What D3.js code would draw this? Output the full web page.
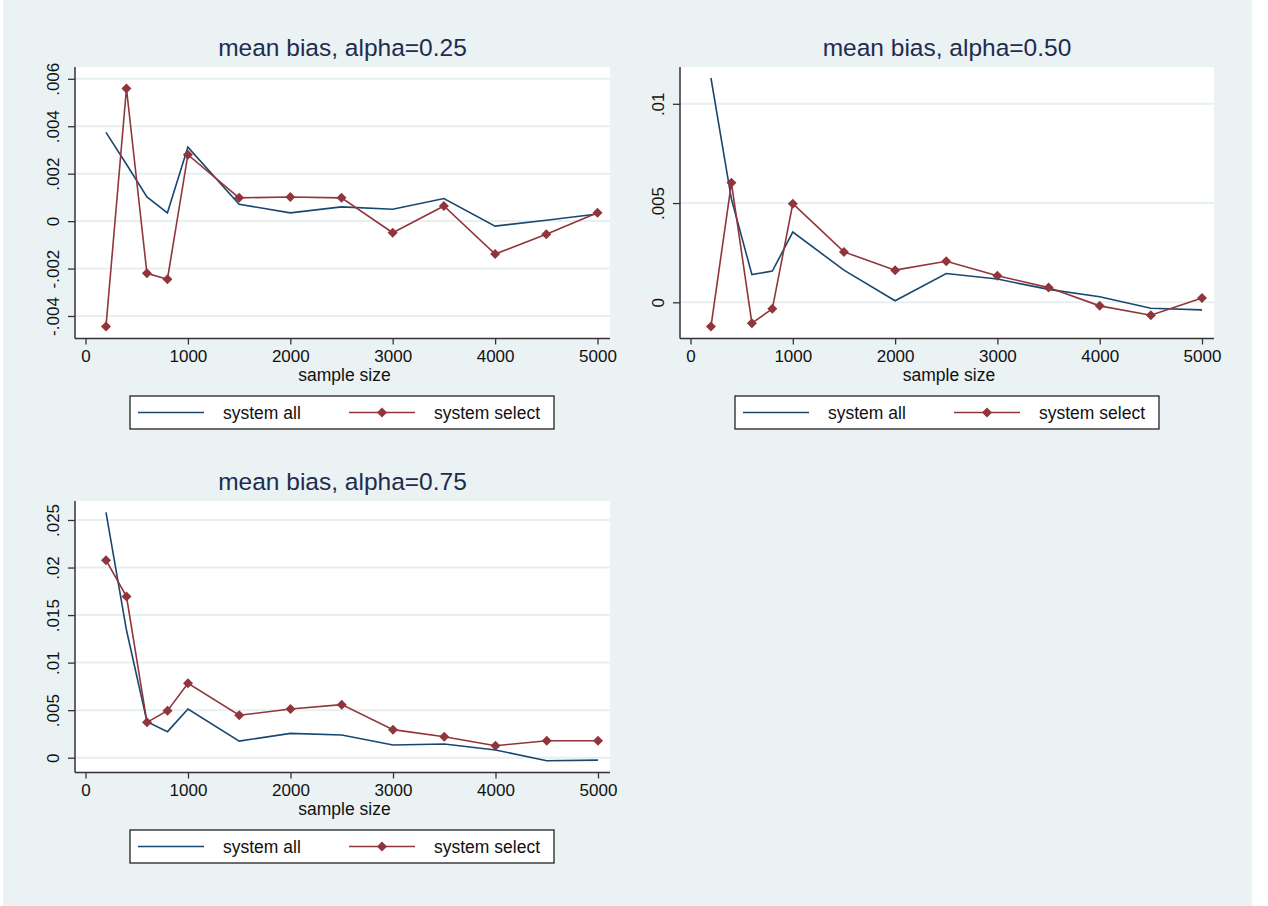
<!DOCTYPE html>
<html>
<head>
<meta charset="utf-8">
<script src="https://cdn.jsdelivr.net/npm/d3@7"></script>
<style>
  html, body { margin: 0; padding: 0; background: #ffffff; }
  svg { display: block; font-family: "Liberation Sans", Arial, sans-serif; }
</style>
</head>
<body>
<svg id="chart" width="1268" height="906"></svg>
<script>
// sample sizes shared by all panels
const sampleSizes = [200, 400, 600, 800, 1000, 1500, 2000, 2500, 3000, 3500, 4000, 4500, 5000];

// alpha = 0.25
const allA25 = [0.00374, 0.0024, 0.00102, 0.00035, 0.00312, 0.00071, 0.00035, 0.0006, 0.0005, 0.00095, -0.00021, 0.00004, 0.0003];
const selA25 = [-0.00444, 0.00559, -0.0022, -0.00245, 0.0028, 0.00098, 0.00102, 0.00098, -0.00049, 0.00064, -0.00139, -0.00055, 0.00035];

// alpha = 0.50
const allA50 = [0.0113, 0.0052, 0.0014, 0.00157, 0.00354, 0.00162, 0.00008, 0.00145, 0.00117, 0.00065, 0.00028, -0.0003, -0.00038];
const selA50 = [-0.00122, 0.00602, -0.00105, -0.00033, 0.00497, 0.00254, 0.00162, 0.00207, 0.00134, 0.00074, -0.00018, -0.00065, 0.00022];

// alpha = 0.75
const allA75 = [0.0258, 0.0134, 0.00379, 0.00274, 0.00512, 0.00175, 0.00256, 0.00239, 0.00133, 0.00144, 0.00081, -0.00032, -0.00025];
const selA75 = [0.02077, 0.01695, 0.00372, 0.00495, 0.00782, 0.00446, 0.00512, 0.00558, 0.00295, 0.00221, 0.00126, 0.00179, 0.00179];

// tick values and labels
const xTicks = [0, 1000, 2000, 3000, 4000, 5000];
const yTicksA25 = [-0.004, -0.002, 0, 0.002, 0.004, 0.006];
const yLabelsA25 = ["-.004", "-.002", "0", ".002", ".004", ".006"];
const yTicksA50 = [0, 0.005, 0.01];
const yLabelsA50 = ["0", ".005", ".01"];
const yTicksA75 = [0, 0.005, 0.01, 0.015, 0.02, 0.025];
const yLabelsA75 = ["0", ".005", ".01", ".015", ".02", ".025"];

const titles = ["mean bias, alpha=0.25", "mean bias, alpha=0.50", "mean bias, alpha=0.75"];
const seriesNames = ["system all", "system select"];

const blue = "#1a476f";
const red = "#90353b";
const bg = "#eaf2f3";
const titleColor = "#1e2c50";

const svg = d3.select("#chart");

svg.append("rect")
  .attr("x", 3).attr("y", 0)
  .attr("width", 1249).attr("height", 906)
  .attr("fill", bg);

const panels = [
  {
    title: titles[0], all: allA25, sel: selA25,
    yTicks: yTicksA25, yLabels: yLabelsA25,
    left: 75, right: 610, top: 67, bottom: 338.5,
    xRange: [85.5, 597.5], yDomain: [-0.004, 0.006], yRange: [316, 78.8]
  },
  {
    title: titles[1], all: allA50, sel: selA50,
    yTicks: yTicksA50, yLabels: yLabelsA50,
    left: 680, right: 1214, top: 67, bottom: 338.5,
    xRange: [690.5, 1202], yDomain: [0, 0.01], yRange: [302.3, 103.8]
  },
  {
    title: titles[2], all: allA75, sel: selA75,
    yTicks: yTicksA75, yLabels: yLabelsA75,
    left: 75, right: 610, top: 501, bottom: 772.5,
    xRange: [85.5, 598], yDomain: [0, 0.025], yRange: [757.7, 520]
  }
];

const diamond = "M0,-5L5,0L0,5L-5,0Z";

panels.forEach((p) => {
  const g = svg.append("g");

  const xScale = d3.scaleLinear().domain([0, 5000]).range(p.xRange);
  const yScale = d3.scaleLinear().domain(p.yDomain).range(p.yRange);

  // plot region
  g.append("rect")
    .attr("x", p.left).attr("y", p.top)
    .attr("width", p.right - p.left).attr("height", p.bottom - p.top)
    .attr("fill", "#ffffff");

  // gridlines
  g.selectAll("line.grid")
    .data(p.yTicks)
    .enter()
    .append("line")
    .attr("class", "grid")
    .attr("x1", p.left).attr("x2", p.right)
    .attr("y1", (d) => yScale(d)).attr("y2", (d) => yScale(d))
    .attr("stroke", "#e7eff1")
    .attr("stroke-width", 2);

  // title
  g.append("text")
    .attr("x", (p.left + p.right) / 2)
    .attr("y", p.top - 11)
    .attr("text-anchor", "middle")
    .attr("font-size", 24.5)
    .attr("fill", titleColor)
    .text(p.title);

  // x axis
  const xAxis = g.append("g")
    .attr("transform", `translate(0, ${p.bottom})`)
    .call(d3.axisBottom(xScale).tickValues(xTicks).tickFormat(d3.format("d")).tickSize(6).tickPadding(5));
  xAxis.select(".domain")
    .attr("d", `M${p.left},0H${p.right}`)
    .attr("stroke", "#333").attr("stroke-width", 1.5);
  xAxis.selectAll(".tick line").attr("stroke", "#333").attr("stroke-width", 1.3);
  xAxis.selectAll(".tick text")
    .attr("font-size", 17).attr("fill", "#111")
    .attr("font-family", "Liberation Sans, Arial, sans-serif");

  g.append("text")
    .attr("x", (p.left + p.right) / 2 + 2)
    .attr("y", p.bottom + 42)
    .attr("text-anchor", "middle")
    .attr("font-size", 17.5)
    .attr("fill", "#111")
    .text("sample size");

  // y axis
  const yAxis = g.append("g")
    .attr("transform", `translate(${p.left}, 0)`)
    .call(d3.axisLeft(yScale).tickValues(p.yTicks).tickFormat((d, i) => p.yLabels[i]).tickSize(7));
  yAxis.select(".domain")
    .attr("d", `M0,${p.top}V${p.bottom}`)
    .attr("stroke", "#333").attr("stroke-width", 1.5);
  yAxis.selectAll(".tick line").attr("stroke", "#333").attr("stroke-width", 1.3);
  yAxis.selectAll(".tick text")
    .attr("font-size", 17).attr("fill", "#111")
    .attr("font-family", "Liberation Sans, Arial, sans-serif")
    .attr("x", null).attr("dy", null)
    .attr("text-anchor", "middle")
    .attr("transform", "translate(-16, 0) rotate(-90)");

  // series lines
  const line = d3.line()
    .x((d, i) => xScale(sampleSizes[i]))
    .y((d) => yScale(d));

  g.append("path")
    .datum(p.all)
    .attr("d", line)
    .attr("fill", "none")
    .attr("stroke", blue)
    .attr("stroke-width", 1.6);

  g.append("path")
    .datum(p.sel)
    .attr("d", line)
    .attr("fill", "none")
    .attr("stroke", red)
    .attr("stroke-width", 1.6);

  g.selectAll("path.marker")
    .data(p.sel)
    .enter()
    .append("path")
    .attr("class", "marker")
    .attr("d", diamond)
    .attr("transform", (d, i) => `translate(${xScale(sampleSizes[i])}, ${yScale(d)})`)
    .attr("fill", red);

  // legend
  const legendX = p.left + 55;
  const legendY = p.bottom + 57.5;
  const legend = g.append("g").attr("transform", `translate(${legendX}, ${legendY})`);

  legend.append("rect")
    .attr("x", 0).attr("y", 0)
    .attr("width", 424).attr("height", 33)
    .attr("fill", "#ffffff")
    .attr("stroke", "#111")
    .attr("stroke-width", 1.2);

  legend.append("line")
    .attr("x1", 8).attr("x2", 74)
    .attr("y1", 16.5).attr("y2", 16.5)
    .attr("stroke", blue).attr("stroke-width", 1.6);

  legend.append("line")
    .attr("x1", 219).attr("x2", 285)
    .attr("y1", 16.5).attr("y2", 16.5)
    .attr("stroke", red).attr("stroke-width", 1.6);

  legend.append("path")
    .attr("d", diamond)
    .attr("transform", "translate(252, 16.5)")
    .attr("fill", red);

  legend.selectAll("text")
    .data(seriesNames)
    .enter()
    .append("text")
    .attr("x", (d, i) => (i === 0 ? 93 : 304))
    .attr("y", 23)
    .attr("font-size", 17.5)
    .attr("fill", "#111")
    .text((d) => d);
});
</script>
</body>
</html>
